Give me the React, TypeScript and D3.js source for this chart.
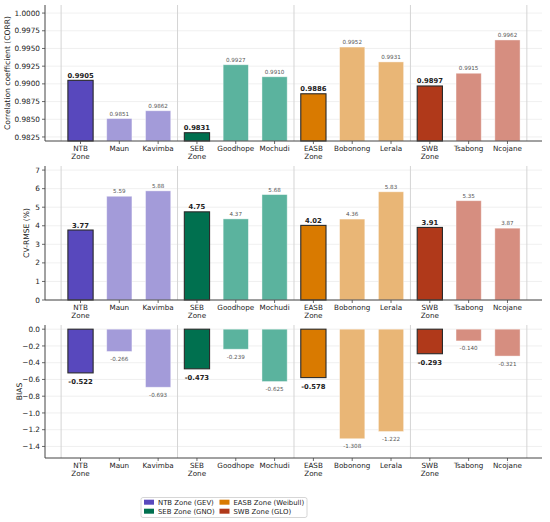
import { useEffect, useRef } from 'react'
import * as d3 from 'd3'

const stations = ['NTB\nZone', 'Maun', 'Kavimba', 'SEB\nZone', 'Goodhope', 'Mochudi', 'EASB\nZone', 'Bobonong', 'Lerala', 'SWB\nZone', 'Tsabong', 'Ncojane']
const isZone = [true, false, false, true, false, false, true, false, false, true, false, false]
const corrValues = [0.9905, 0.9851, 0.9862, 0.9831, 0.9927, 0.9910, 0.9886, 0.9952, 0.9931, 0.9897, 0.9915, 0.9962]
const cvrmseValues = [3.77, 5.59, 5.88, 4.75, 4.37, 5.68, 4.02, 4.36, 5.83, 3.91, 5.35, 3.87]
const biasValues = [-0.522, -0.266, -0.693, -0.473, -0.239, -0.625, -0.578, -1.308, -1.222, -0.293, -0.140, -0.321]
const corrTicks = [0.9825, 0.985, 0.9875, 0.99, 0.9925, 0.995, 0.9975, 1.0]
const cvrmseTicks = [0, 1, 2, 3, 4, 5, 6, 7]
const biasTicks = [-1.4, -1.2, -1.0, -0.8, -0.6, -0.4, -0.2, 0.0]
const zoneLegend = ['NTB Zone (GEV)', 'SEB Zone (GNO)', 'EASB Zone (Weibull)', 'SWB Zone (GLO)']
const zoneColors = ['#5848BD', '#00704F', '#D97A00', '#B0391A']
const stationColors = ['#A39BD9', '#5BB39E', '#E9B676', '#D68E80']

const W = 550
const H = 522
const FONT = 'DejaVu Sans, sans-serif'

interface Panel {
  values: number[]
  ticks: number[]
  domain: [number, number]
  top: number
  bottom: number
  label: string
  labelX: number
  tickFmt: (v: number) => string
  valFmt: (v: number) => string
}

const panels: Panel[] = [
  {
    values: corrValues, ticks: corrTicks, domain: [0.98193, 1.00114], top: 5, bottom: 141,
    label: 'Correlation coefficient (CORR)', labelX: 10,
    tickFmt: v => v.toFixed(4), valFmt: v => v.toFixed(4)
  },
  {
    values: cvrmseValues, ticks: cvrmseTicks, domain: [0, 7.22], top: 166, bottom: 300,
    label: 'CV-RMSE (%)', labelX: 29,
    tickFmt: v => v.toFixed(0), valFmt: v => v.toFixed(2)
  },
  {
    values: biasValues, ticks: biasTicks, domain: [-1.538, 0.05], top: 325, bottom: 458,
    label: 'BIAS', labelX: 22,
    tickFmt: v => v.toFixed(1).replace('-', '\u2212'), valFmt: v => v.toFixed(3)
  }
]

export default function App() {
  const svgRef = useRef<SVGSVGElement>(null)

  useEffect(() => {
    if (!svgRef.current) return
    const svg = d3.select(svgRef.current)
    svg.selectAll('*').remove()

    const x = d3.scaleLinear().domain([-0.915, 11.89]).range([45, 542])
    const barW = x(0.65) - x(0)
    const idx = d3.range(stations.length)

    panels.forEach(p => {
      const y = d3.scaleLinear().domain(p.domain).range([p.bottom, p.top])
      const g = svg.append('g')

      // horizontal grid
      g.selectAll('.hgrid')
        .data(p.ticks)
        .join('line')
        .attr('x1', x.range()[0])
        .attr('x2', x.range()[1])
        .attr('y1', d => y(d))
        .attr('y2', d => y(d))
        .style('stroke', '#ececec')
        .style('stroke-width', '0.8px')

      // group separators
      g.selectAll('.sep')
        .data([-0.5, 2.5, 5.5, 8.5, 11.5])
        .join('line')
        .attr('x1', d => x(d))
        .attr('x2', d => x(d))
        .attr('y1', p.top)
        .attr('y2', p.bottom)
        .style('stroke', '#d4d4d4')
        .style('stroke-width', '1px')

      // bars
      const baseVal = p.domain[0] > 0 ? p.domain[0] : 0
      g.selectAll('.bar')
        .data(idx)
        .join('rect')
        .attr('x', i => x(i) - barW / 2)
        .attr('width', barW)
        .attr('y', i => Math.min(y(p.values[i]), y(baseVal)))
        .attr('height', i => Math.abs(y(p.values[i]) - y(baseVal)))
        .style('fill', i => isZone[i] ? zoneColors[Math.floor(i / 3)] : stationColors[Math.floor(i / 3)])
        .style('stroke', i => isZone[i] ? '#2a2a2a' : '#ffffff')
        .style('stroke-opacity', i => isZone[i] ? 1 : 0.5)
        .style('stroke-width', i => isZone[i] ? '1.1px' : '0.8px')

      // value labels
      g.selectAll('.val')
        .data(idx)
        .join('text')
        .attr('x', i => x(i))
        .attr('y', i => {
          const v = p.values[i]
          if (v < 0) return y(v) + (isZone[i] ? 11 : 9.5)
          return y(v) - (isZone[i] ? 2.5 : 3)
        })
        .attr('text-anchor', 'middle')
        .style('font-family', FONT)
        .style('font-size', i => isZone[i] ? '6.8px' : '5.6px')
        .style('font-weight', i => isZone[i] ? 'bold' : 'normal')
        .style('fill', i => isZone[i] ? '#222' : '#555')
        .text(i => p.valFmt(p.values[i]))

      // axes spines
      g.append('line')
        .attr('x1', x.range()[0]).attr('x2', x.range()[0])
        .attr('y1', p.top).attr('y2', p.bottom)
        .style('stroke', '#444').style('stroke-width', '1px')
      g.append('line')
        .attr('x1', x.range()[0]).attr('x2', x.range()[1])
        .attr('y1', p.bottom).attr('y2', p.bottom)
        .style('stroke', '#444').style('stroke-width', '1px')

      // y ticks
      p.ticks.forEach(t => {
        g.append('line')
          .attr('x1', x.range()[0] - 3).attr('x2', x.range()[0])
          .attr('y1', y(t)).attr('y2', y(t))
          .style('stroke', '#444').style('stroke-width', '0.8px')
        g.append('text')
          .attr('x', x.range()[0] - 5)
          .attr('y', y(t) + 2.6)
          .attr('text-anchor', 'end')
          .style('font-family', FONT)
          .style('font-size', '7.3px')
          .style('fill', '#222')
          .text(p.tickFmt(t))
      })

      // x ticks and labels
      idx.forEach(i => {
        g.append('line')
          .attr('x1', x(i)).attr('x2', x(i))
          .attr('y1', p.bottom).attr('y2', p.bottom + 3)
          .style('stroke', '#444').style('stroke-width', '0.8px')
        stations[i].split('\n').forEach((line, k) => {
          g.append('text')
            .attr('x', x(i))
            .attr('y', p.bottom + 10 + k * 7.6)
            .attr('text-anchor', 'middle')
            .style('font-family', FONT)
            .style('font-size', '7.2px')
            .style('fill', '#222')
            .text(line)
        })
      })

      // y label
      const cy = (p.top + p.bottom) / 2
      g.append('text')
        .attr('transform', `translate(${p.labelX},${cy}) rotate(-90)`)
        .attr('text-anchor', 'middle')
        .style('font-family', FONT)
        .style('font-size', '7.6px')
        .style('fill', '#222')
        .text(p.label)
    })

    // legend
    const lg = svg.append('g')
    lg.append('rect')
      .attr('x', 141).attr('y', 497.5)
      .attr('width', 166).attr('height', 20)
      .attr('rx', 2)
      .style('fill', '#fff')
      .style('stroke', '#cccccc')
      .style('stroke-width', '0.8px')
    zoneLegend.forEach((lab, i) => {
      const col = Math.floor(i / 2)
      const row = i % 2
      const px = col === 0 ? 144 : 219.5
      const py = 502.3 + row * 9
      lg.append('rect')
        .attr('x', px).attr('y', py - 2.6)
        .attr('width', 10).attr('height', 5)
        .style('fill', zoneColors[i])
      lg.append('text')
        .attr('x', px + 14)
        .attr('y', py + 2.5)
        .style('font-family', FONT)
        .style('font-size', '6.9px')
        .style('fill', '#222')
        .text(lab)
    })
  }, [])

  return (
    <div style={{ position: 'absolute', left: 0, top: 0 }}>
      <svg ref={svgRef} width={W} height={H} style={{ display: 'block', background: '#fff' }} />
    </div>
  )
}
